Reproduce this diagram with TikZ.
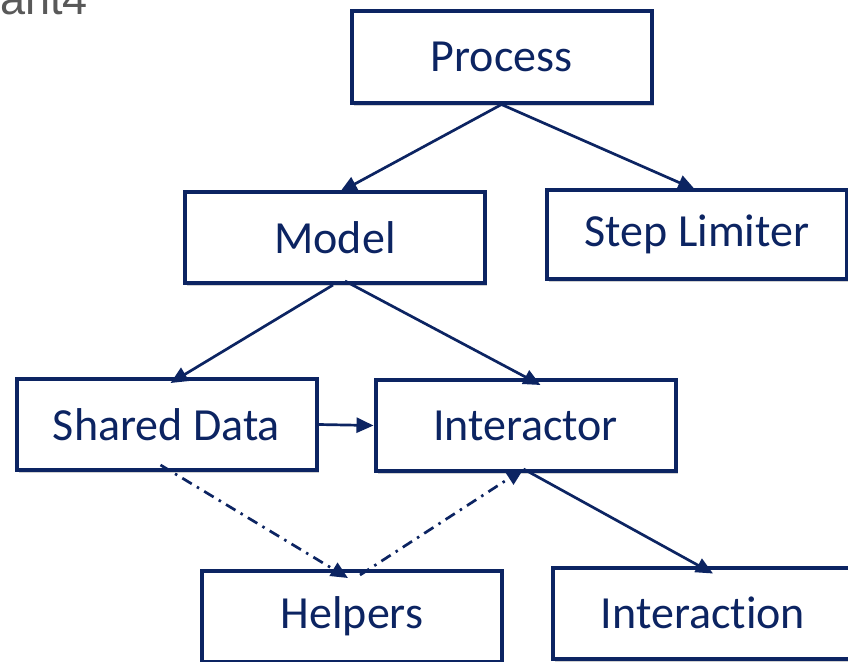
\documentclass[tikz,border=0pt]{standalone}
\usepackage{fontspec}
\setmainfont{Carlito}[Ligatures=NoCommon]
\newfontfamily\graysans{Liberation Sans}
\usetikzlibrary{arrows.meta,shadows,calc}
\definecolor{navy}{RGB}{12,36,98}
\definecolor{titlegray}{RGB}{89,89,89}
\begin{document}
\begin{tikzpicture}[x=1pt,y=-1pt,
  box/.style={draw=navy,line width=4pt,fill=white,minimum width=300pt,minimum height=91pt,
    inner sep=0pt,text=navy,font=\fontsize{46}{54}\selectfont,
    drop shadow={shadow xshift=2pt,shadow yshift=-3pt,opacity=0.18,fill=black}},
  link/.style={draw=navy,line width=2.7pt,-{Triangle[length=17pt,width=15pt]}},
  dotlink/.style={link,dash pattern=on 11pt off 6pt on 2.5pt off 6pt}]
\useasboundingbox (0,0) rectangle (848,661);
\fill[white] (0,0) rectangle (848,661);
\node[anchor=base east,text=titlegray,font=\graysans\fontsize{45}{50}\selectfont,inner sep=0pt] (title) at (88,15) {ant4};
\node[box] (proc) at (501.5,57) {Process};
\node[box] (model) at (335,237.5) {Model};
\node[box,minimum height=89pt] (step) at (697,234) {Step Limiter};
\node[box] (shared) at (166.5,424.5) {Shared Data};
\node[box] (inter) at (525.5,425.5) {Interactor};
\node[box] (help) at (352,616.5) {Helpers};
\node[box] (act) at (703,613) {Interaction};
\draw[link] (proc.south) -- ([xshift=5pt,yshift=-2pt]model.north);
\draw[link] (proc.south) -- ([xshift=-2pt,yshift=-2pt]step.north);
\draw[link] ([xshift=-2pt]model.south) -- ([xshift=4pt,yshift=-6pt]shared.north);
\draw[link] ([xshift=10pt,yshift=4pt]model.south) -- ([xshift=15pt,yshift=-7pt]inter.north);
\draw[link] (shared.east) -- (inter.west);
\draw[dotlink] ([xshift=-6pt,yshift=7pt]shared.south) -- ([xshift=-4pt,yshift=-9pt]help.north);
\draw[dotlink] ([xshift=8pt,yshift=-6pt]help.north) -- ([xshift=-2pt,yshift=4pt]inter.south);
\draw[link] ([xshift=-2pt,yshift=4pt]inter.south) -- ([xshift=10pt,yshift=-8pt]act.north);
\end{tikzpicture}
\end{document}
